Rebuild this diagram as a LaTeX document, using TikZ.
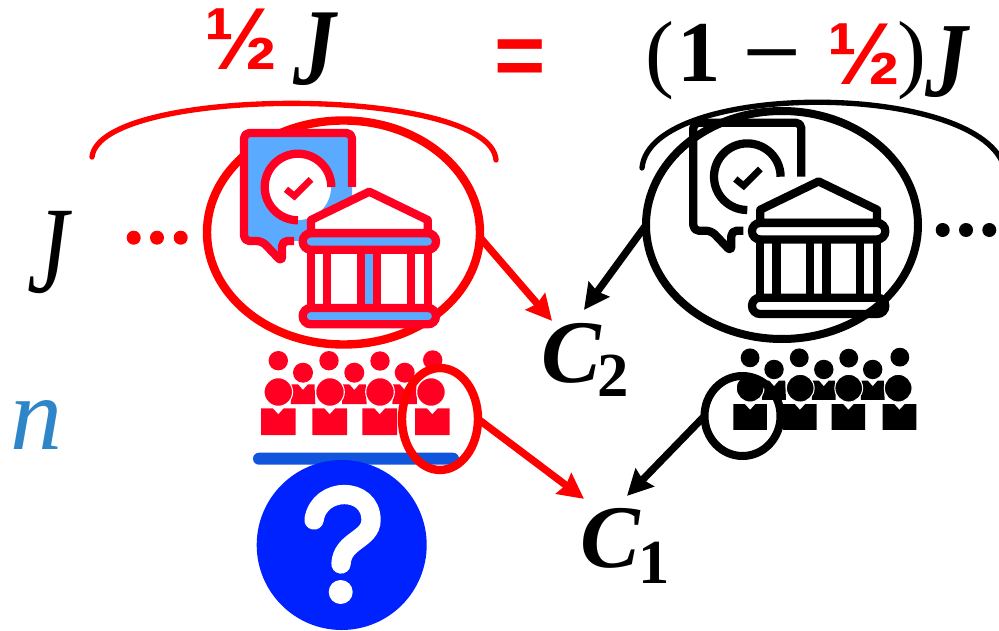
\documentclass[tikz,border=0pt]{standalone}
\usepackage{fontspec}
\setmainfont{Liberation Serif}
\newfontfamily\arialf{Liberation Sans}
\usetikzlibrary{shapes.geometric,arrows.meta}
\definecolor{iconred}{HTML}{FF0022}
\definecolor{iconblue}{HTML}{5AAAFF}
\definecolor{barblue}{HTML}{1155DD}
\definecolor{qblue}{HTML}{0022FF}
\definecolor{nblue}{HTML}{2E86C8}
\newcommand\fsz[1]{\fontsize{#1}{#1}\selectfont}
\tikzset{
  lbl/.style={inner sep=0pt,outer sep=0pt,anchor=base west},
  ring/.style={ellipse,draw,inner sep=0pt,outer sep=0pt},
  conn/.style={line width=5.5pt,-{Stealth[length=19pt,width=19pt,inset=2pt]}},
  brace/.style={line width=4pt,line cap=round},
}
% #1 line colour, #2 fill colour
\newcommand\bankicon[2]{%
  \fill[#2] (244,133) -- (352,133) -- (352,240) -- (294,241) -- (282,241) -- (282,262) -- (262,241) -- (244,241) -- cycle;
  \draw[#1,line width=6.2pt,line join=round,rounded corners=4pt] (352,187) -- (352,133) -- (244,133) -- (244,241) -- (262,241) -- (282,262) -- (282,241) -- (294,241);
  \fill[white] (298,187) circle[radius=33];
  \draw[#1,line width=6.2pt] (331.3,187) arc[start angle=0,end angle=-270,radius=33.3];
  \draw[#1,line width=5pt,line join=miter] (286,189.3) -- (294.3,196) -- (311,179.3);
  \draw[#1,line width=6.2pt,line join=round,fill=white] (311,233) -- (311,220) -- (369.3,191.7) -- (427.7,220) -- (427.7,233) -- cycle;
  \fill[white] (311,249) rectangle (427.7,308);
  \fill[#2] (361,249) rectangle (377.3,308);
  \foreach \cx in {311,327.3,361,377.3,410.7,427.7}{\draw[#1,line width=6.2pt] (\cx,249) -- (\cx,308);}
  \draw[#1,line width=6.2pt,fill=#2,rounded corners=6pt] (302.7,233.3) rectangle (436,249.7);
  \draw[#1,line width=6.2pt,fill=#2,rounded corners=6pt] (302.7,308) rectangle (436,324.3);
}
\newcommand\crowd[1]{%
  \foreach \hx/\hy in {278.3/360.7,329/360.7,380/361,432.7/360}{\fill[#1] (\hx,\hy) circle[radius=9.7];}
  \foreach \mx in {303,354.3,404.7}{
    \fill[#1] (\mx,372.7) circle[radius=10];
    \fill[#1] (\mx-11.5,384.3) -- (\mx-5,384.3) -- (\mx,390) -- (\mx+5,384.3) -- (\mx+11.5,384.3) -- (\mx+12.3,404) -- (\mx-12.3,404) -- cycle;
  }
  \foreach \fx/\bx in {278.3/278.3,330/329.7,380/379.7,431/432.3}{
    \filldraw[#1,draw=white,line width=0.8pt] (\fx,392) circle[radius=14.3];
    \fill[#1] (\bx-17.3,408.3) -- (\bx-5.5,408.3) -- (\bx,414.3) -- (\bx+5.5,408.3) -- (\bx+17.3,408.3) -- (\bx+17.3,435) -- (\bx-17.3,435) -- cycle;
  }
}
\begin{document}
\begin{tikzpicture}[x=0.75pt,y=-0.75pt]
\clip (0,0) rectangle (999,631);
\fill[white] (0,0) rectangle (999,631);

% top formula
\node[lbl,text=red,font=\arialf\bfseries\fsz{66}] (halfL) at (204,70) {½};
\node[lbl,font=\bfseries\itshape\fsz{82}] (jL) at (293,85) {\scalebox{.78}[1]{J}};
\node[lbl,text=red,font=\arialf\bfseries\fsz{66}] (eq) at (494,86) {=};
\node[lbl,font=\bfseries\fsz{65}] (paren) at (645,82) {{\mdseries(}\hspace{3pt}1\hspace{16pt}\scalebox{1.2}[1]{−}\hspace{19pt}\raisebox{-2pt}{\textcolor{red}{\arialf\fsz{66}½}}\hspace{-2pt}{\mdseries)}};
\node[lbl,font=\bfseries\itshape\fsz{80}] (jR) at (925,97) {\scalebox{.8}[1]{J}};

% arcs
\coordinate (braceLa) at (92,157);
\coordinate (braceLb) at (496,160);
\coordinate (braceRa) at (642,168);
\coordinate (braceRb) at (1005,170);
\draw[brace,red] (braceLa) .. controls (100,85) and (490,85) .. (braceLb);
\draw[brace,black] (braceRa) .. controls (650,80) and (985,80) .. (braceRb);

% side labels
\node[lbl,font=\itshape\fsz{93}] (jSide) at (27,292) {\scalebox{.75}[1]{J}};
\node[lbl,text=nblue,font=\itshape\fsz{78}] (nSide) at (11,449) {n};

% dots
\foreach \dx in {133.7,157,180.7}{\fill[red] (\dx,237.7) circle[radius=7];}
\foreach \dx in {942.7,966,989.3}{\fill[black] (\dx,230) circle[radius=7];}

% left group
\node[ring,red,line width=6.3pt,minimum width=204.75pt,minimum height=168pt] (bankL) at (343.5,232.5) {};
\bankicon{iconred}{iconblue}
\crowd{iconred}
\fill[barblue,rounded corners=4.5pt] (253,452.7) rectangle (459,464.7);
\fill[qblue] (341.7,545) circle[radius=85];
\draw[white,line width=14.5pt,line cap=round] (314,520) .. controls (319,486) and (371,486) .. (371,520) .. controls (371,540) and (342,540) .. (341,564);
\fill[white] (340.7,592) circle[radius=12];
\node[ring,red,line width=6.3pt,minimum width=57pt,minimum height=76.5pt] (needL) at (440,419) {};

% right group
\begin{scope}[shift={(449.3,-10.3)}]
\bankicon{black}{white}
\end{scope}
\node[ring,black,line width=6pt,minimum width=204pt,minimum height=171pt] (bankR) at (782,225) {};
\begin{scope}[shift={(733.3,404)},scale=0.97,shift={(-261,-408.3)}]
\crowd{black}
\end{scope}
\node[ring,black,line width=6pt,minimum width=57pt,minimum height=60pt] (needR) at (742.5,416) {};

% targets
\node[lbl,font=\bfseries\fsz{47}] (c2) at (541,382) {{\itshape\fsz{67}C}\hspace{-2pt}\raisebox{-11pt}{2}};
\node[lbl,font=\bfseries\fsz{47}] (c1) at (580,567) {{\itshape\fsz{67}C}\hspace{-1pt}\raisebox{-12pt}{1}};

% connectors
\draw[conn,red] (bankL.-2) -- ([shift={(11,-2)}]c2.north west);
\draw[conn,black] (bankR.west) -- ([shift={(43,-13)}]c2.north west);
\draw[conn,red] (needL.east) -- ([shift={(4,-9)}]c1.north west);
\draw[conn,black] (needR.west) -- ([shift={(47,-12)}]c1.north west);
\end{tikzpicture}
\end{document}
